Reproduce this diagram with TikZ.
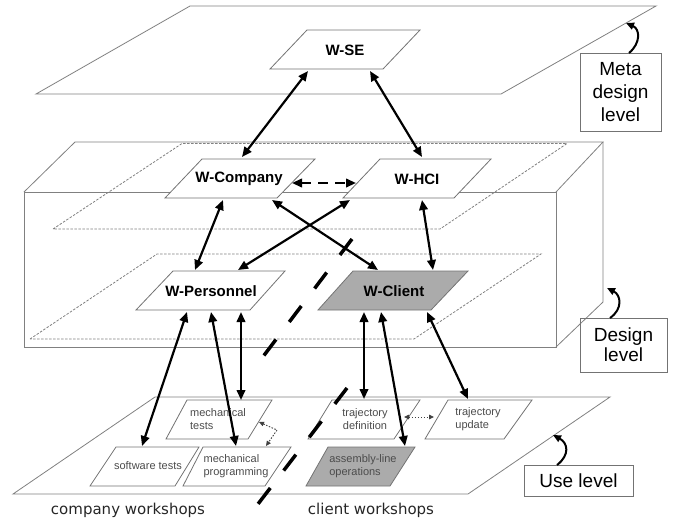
\documentclass[tikz,border=0pt]{standalone}
\usepackage{fontspec}
\setmainfont{Liberation Sans}
\newfontfamily\dejavu{DejaVu Sans}
\usetikzlibrary{arrows.meta}
\begin{document}
\begin{tikzpicture}[x=1pt,y=-1pt,
  plane/.style={draw=black!50,line width=0.8pt},
  dplane/.style={draw=black!50,line width=0.8pt,dash pattern=on 2.5pt off 1.5pt},
  wbox/.style={draw=black!55,fill=white,line width=0.8pt},
  cbox/.style={draw=black!55,fill=black!33,line width=0.8pt},
  wlabel/.style={font=\fontsize{15}{18}\selectfont\bfseries,inner sep=0pt},
  ulabel/.style={font=\fontsize{11}{13}\selectfont,text=black!70,align=left,inner sep=0pt},
  lvlbox/.style={draw=black!55,line width=0.8pt,align=center,inner sep=0pt},
  wtext/.style={font=\dejavu\fontsize{15}{18}\selectfont,text=black!85,inner sep=0pt},
  biarrow/.style={{Triangle[length=10pt,width=8.5pt]}-{Triangle[length=10pt,width=8.5pt]},line width=2.2pt},
  dbiarrow/.style={biarrow,dash pattern=on 10pt off 7pt},
  smallarrow/.style={{Triangle[length=5pt,width=4.5pt,fill=black!75]}-{Triangle[length=5pt,width=4.5pt,fill=black!75]},line width=0.9pt,dash pattern=on 1.5pt off 1.5pt,draw=black!75},
  curv/.style={-{Triangle[length=8pt,width=7pt]},line width=2pt},
  sepline/.style={line width=3.5pt,dash pattern=on 20pt off 22pt}
]
\useasboundingbox (0,0) rectangle (674,520);

% ---------- Meta design level plane
\draw[plane] (36,94) -- (190,6) -- (656,6) -- (501,94) -- cycle;

% ---------- Design level box
\draw[plane] (24,192) rectangle (556,347);
\draw[plane] (24,192) -- (75,142) -- (603,142) -- (556,192);
\draw[plane] (603,142) -- (603,302) -- (556,347);
\draw[dplane] (53,229) -- (182,143.5) -- (567,143.5) -- (440,229) -- cycle;
\draw[dplane] (30,339) -- (157,254) -- (541,254) -- (414,339) -- cycle;

% ---------- Use level plane
\draw[plane] (13,494) -- (155,397) -- (610,397) -- (468,494) -- cycle;

% ---------- Meta design nodes
\draw[wbox] (307,30) -- (420,30) -- (383,69) -- (270,69) -- cycle;
\node[wlabel] (wse) at (345,50) {W-SE};

% ---------- Design nodes
\draw[wbox] (202,159) -- (315,159) -- (277,198) -- (165,198) -- cycle;
\node[wlabel] (wcomp) at (239,179) {W-Company};
\draw[wbox] (380,159) -- (491,159) -- (454,198) -- (343,198) -- cycle;
\node[wlabel] (whci) at (417,179) {W-HCI};
\draw[wbox] (173,271) -- (285,271) -- (250,310) -- (136,310) -- cycle;
\node[wlabel] (wpers) at (211,291) {W-Personnel};
\draw[cbox] (353,271) -- (468,271) -- (431,310) -- (318,310) -- cycle;
\node[wlabel] (wcli) at (394,291) {W-Client};

% ---------- Use nodes
\draw[wbox] (187,400) -- (272,400) -- (248,439) -- (166,439) -- cycle;
\node[ulabel] (mtests) at (218,419) {mechanical\\tests};
\draw[wbox] (332,400) -- (420,400) -- (394,439) -- (308,439) -- cycle;
\node[ulabel,align=center] (tdef) at (365,419) {trajectory\\definition};
\draw[wbox] (448,400) -- (532,400) -- (504,439) -- (425,439) -- cycle;
\node[ulabel] (tupd) at (478,419) {trajectory\\update};
\draw[wbox] (116,447) -- (199,447) -- (175,486) -- (90,486) -- cycle;
\node[ulabel] (stests) at (148,466) {software tests};
\draw[wbox] (203,447) -- (291,447) -- (265,486) -- (183,486) -- cycle;
\node[ulabel] (mprog) at (236,466) {mechanical\\programming};
\draw[cbox] (328,447) -- (415,447) -- (390,486) -- (306,486) -- cycle;
\node[ulabel] (asm) at (363,466) {assembly-line\\operations};

% ---------- Level labels
\node[lvlbox,minimum width=81pt,minimum height=78pt,
      font=\fontsize{19}{23}\selectfont] (meta) at (620.5,92) {Meta\\design\\level};
\node[lvlbox,minimum width=87pt,minimum height=54pt,
      font=\fontsize{19}{20}\selectfont] (design) at (623.5,345) {Design\\level};
\node[lvlbox,minimum width=109pt,minimum height=31pt,
      font=\fontsize{19}{22}\selectfont] (use) at (578.5,480.5) {Use level};

\node[wtext] (cws) at (128,510) {company workshops};
\node[wtext] (clws) at (371,510) {client workshops};

% ---------- connector end points
\coordinate (wse-l) at (308,71);   \coordinate (wse-r) at (370,71);
\coordinate (wcomp-t) at (242,157); \coordinate (whci-t) at (422,157);
\coordinate (wcomp-b1) at (223,200); \coordinate (wcomp-b2) at (272,200);
\coordinate (whci-b1) at (350,200); \coordinate (whci-b2) at (422,200);
\coordinate (wcomp-r) at (292,183); \coordinate (whci-l) at (356,183);
\coordinate (wpers-t1) at (195,270); \coordinate (wpers-t2) at (238,270);
\coordinate (wcli-t1) at (378,270); \coordinate (wcli-t2) at (433,270);
\coordinate (wpers-b1) at (187,312); \coordinate (wpers-b2) at (211,312); \coordinate (wpers-b3) at (241,312);
\coordinate (wcli-b1) at (364,312); \coordinate (wcli-b2) at (381,312); \coordinate (wcli-b3) at (427,312);
\coordinate (stests-t) at (142,446); \coordinate (mprog-t) at (236,446);
\coordinate (mtests-t) at (241,400); \coordinate (tdef-t) at (364,399);
\coordinate (asm-t) at (405,446); \coordinate (tupd-t) at (468,399);
\coordinate (mtests-r) at (259,422); \coordinate (mbend) at (277,430); \coordinate (mprog-tr) at (266,446);
\coordinate (tdef-r) at (404,417); \coordinate (tupd-l) at (434,417);
\coordinate (metatip) at (626,23); \coordinate (metafoot) at (629,53);
\coordinate (designtip) at (607,288); \coordinate (designfoot) at (610,318);
\coordinate (usetip) at (553,435); \coordinate (usefoot) at (557,465);

% ---------- connectors
\draw[biarrow] (wse-l) -- (wcomp-t);
\draw[biarrow] (wse-r) -- (whci-t);
\draw[dbiarrow] (wcomp-r) -- (whci-l);
\draw[biarrow] (wcomp-b1) -- (wpers-t1);
\draw[biarrow] (wcomp-b2) -- (wcli-t1);
\draw[biarrow] (whci-b1) -- (wpers-t2);
\draw[biarrow] (whci-b2) -- (wcli-t2);
\draw[biarrow] (wpers-b1) -- (stests-t);
\draw[biarrow] (wpers-b2) -- (mprog-t);
\draw[biarrow] (wpers-b3) -- (mtests-t);
\draw[biarrow] (wcli-b1) -- (tdef-t);
\draw[biarrow] (wcli-b2) -- (asm-t);
\draw[biarrow] (wcli-b3) -- (tupd-t);
\draw[smallarrow] (mtests-r) -- (mbend) -- (mprog-tr);
\draw[smallarrow] (tdef-r) -- (tupd-l);

\draw[curv] (metafoot) .. controls (641,43) and (640,29) .. (metatip);
\draw[curv] (designfoot) .. controls (623,309) and (621,295) .. (designtip);
\draw[curv] (usefoot) .. controls (570,455) and (568,443) .. (usetip);

% ---------- separator between company and client
\coordinate (sepA1) at (352,239); \coordinate (sepA2) at (262,358);
\coordinate (sepB1) at (347,388); \coordinate (sepB2) at (258,504);
\draw[sepline] (sepA1) -- (sepA2);
\draw[sepline] (sepB1) -- (sepB2);
\end{tikzpicture}
\end{document}
